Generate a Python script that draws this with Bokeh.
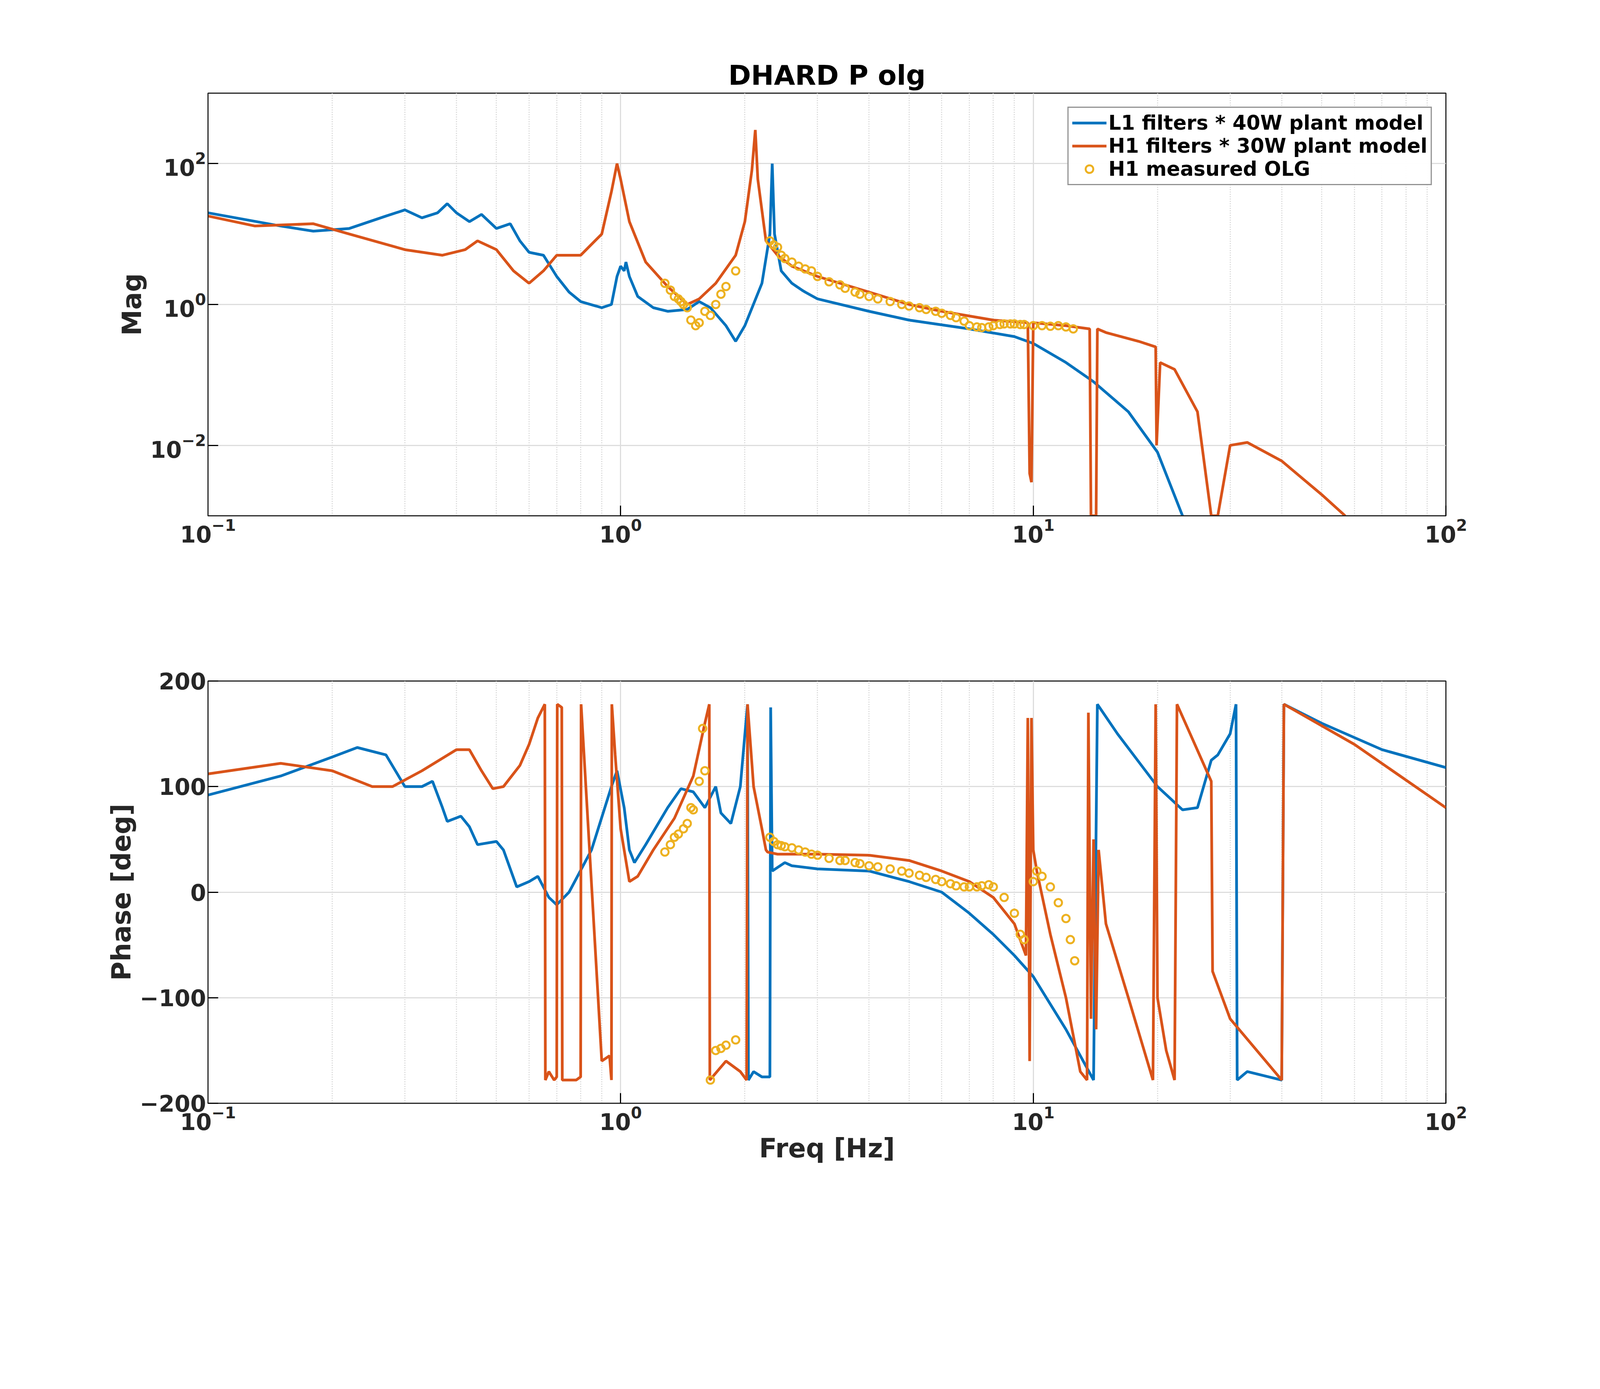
import numpy as np
from bokeh.plotting import figure
from bokeh.layouts import column
from bokeh.models import FixedTicker, Legend, LegendItem
from bokeh.embed import file_html
from bokeh.resources import INLINE

BLUE = "#0072BD"; ORANGE = "#D95319"; YEL = "#EDB120"

l1_mag_f = [0.1,0.15,0.18,0.22,0.27,0.3,0.33,0.36,0.38,0.4,0.43,0.46,0.5,0.54,0.57,0.6,0.65,0.7,0.75,0.8,0.9,0.95,0.98,1.0,1.02,1.03,1.05,1.1,1.2,1.3,1.45,1.55,1.65,1.8,1.9,2.0,2.2,2.3,2.33,2.36,2.45,2.6,2.75,2.8,3,4,5,7,9,10,12,14,17,20,23]
l1_mag_v = [20,13,11,12,18,22,17,20,27,20,15,19,12,14,8,5.5,5,2.5,1.5,1.1,0.9,1.0,2.5,3.5,3,4,2.5,1.3,0.9,0.8,0.85,1.1,0.9,0.5,0.3,0.5,2,10,100,10,3,2,1.6,1.5,1.2,0.8,0.6,0.45,0.35,0.28,0.15,0.08,0.03,0.008,0.001]

h1_mag_f = [0.1,0.13,0.18,0.22,0.3,0.37,0.42,0.45,0.5,0.55,0.6,0.65,0.7,0.8,0.9,0.95,0.98,1.0,1.05,1.15,1.3,1.45,1.55,1.7,1.9,2.0,2.08,2.12,2.15,2.25,2.4,2.6,3,4,5,6,8,9.7,9.8,9.9,10.0,12,13.7,13.8,14.2,14.3,15,18,19.8,19.9,20.3,22,25,27,28,30,33,40,50,57]
h1_mag_v = [18,13,14,10,6,5,6,8,6,3,2,3,5,5,10,40,100,60,15,4,1.8,1.0,1.2,2,5,15,80,300,60,8,5,3.5,2.5,1.5,1.0,0.8,0.6,0.55,0.004,0.003,0.55,0.5,0.45,0.001,0.001,0.45,0.4,0.3,0.25,0.01,0.15,0.12,0.03,0.001,0.001,0.01,0.011,0.006,0.002,0.001]

meas_f = [1.28,1.32,1.35,1.38,1.4,1.42,1.45,1.48,1.52,1.55,1.6,1.65,1.7,1.75,1.8,1.9,2.3,2.35,2.4,2.45,2.5,2.6,2.7,2.8,2.9,3.0,3.2,3.4,3.5,3.7,3.8,4.0,4.2,4.5,4.8,5.0,5.3,5.5,5.8,6.0,6.3,6.5,6.8,7.0,7.3,7.5,7.8,8.0,8.3,8.5,8.8,9.0,9.3,9.5,10.0,10.5,11.0,11.5,12.0,12.5]
meas_mag = [2,1.6,1.3,1.2,1.1,1.0,0.9,0.6,0.5,0.55,0.8,0.7,1.0,1.4,1.8,3,8,7,6.5,5,4.5,4,3.5,3.2,3.0,2.5,2.1,1.9,1.7,1.5,1.4,1.3,1.2,1.1,1.0,0.95,0.9,0.85,0.8,0.75,0.7,0.65,0.58,0.5,0.48,0.47,0.48,0.5,0.52,0.53,0.53,0.53,0.52,0.52,0.5,0.5,0.49,0.5,0.48,0.45]
meas_ph = [38,45,52,55,60,65,80,78,105,115,155,-178,-150,-148,-145,-140,52,48,45,44,43,42,40,38,36,35,32,30,30,28,27,25,24,22,20,18,16,14,12,10,8,6,5,5,5,6,7,5,-5,-20,-40,-45,10,20,15,5,-10,-25,-45,-65]
meas_ph_f = [1.28,1.32,1.35,1.38,1.42,1.45,1.48,1.5,1.55,1.6,1.58,1.65,1.7,1.75,1.8,1.9,2.3,2.35,2.4,2.45,2.5,2.6,2.7,2.8,2.9,3.0,3.2,3.4,3.5,3.7,3.8,4.0,4.2,4.5,4.8,5.0,5.3,5.5,5.8,6.0,6.3,6.5,6.8,7.0,7.3,7.5,7.8,8.0,8.5,9.0,9.3,9.5,10.0,10.2,10.5,11.0,11.5,12.0,12.3,12.6]

l1_ph_f = [0.1,0.15,0.2,0.23,0.27,0.3,0.33,0.35,0.37,0.38,0.41,0.43,0.45,0.5,0.52,0.56,0.6,0.63,0.67,0.7,0.75,0.85,0.95,0.98,1.02,1.05,1.08,1.15,1.3,1.4,1.5,1.6,1.7,1.75,1.85,1.95,2.03,2.04,2.1,2.2,2.3,2.31,2.33,2.5,2.6,3,4,5,6,7,8,9,10,12,14,14.3,16,20,23,25,27,28,30,31,31.2,33,40,40.5,50,70,100]
l1_ph_v = [92,110,128,137,130,100,100,105,80,67,72,62,45,48,40,5,10,15,-5,-12,0,40,100,115,80,40,28,45,80,98,95,80,100,75,65,100,178,-178,-170,-175,-175,175,20,28,25,22,20,10,0,-20,-40,-60,-80,-130,-178,178,150,100,78,80,125,130,150,178,-178,-170,-178,178,160,135,118]

h1_ph_f = [0.1,0.15,0.2,0.25,0.28,0.33,0.4,0.43,0.46,0.49,0.52,0.57,0.6,0.63,0.655,0.657,0.67,0.69,0.7,0.702,0.72,0.722,0.78,0.8,0.802,0.9,0.94,0.95,0.952,0.97,1.0,1.05,1.1,1.2,1.35,1.5,1.6,1.64,1.645,1.8,1.95,2.02,2.03,2.1,2.2,2.25,2.27,2.4,3,4,5,6,7,8,9,9.6,9.7,9.8,9.9,10.0,10.2,11,12,13,13.5,13.6,13.8,14.0,14.2,14.4,15,17,19.5,19.8,20,21,22,22.3,24,27,27.2,30,40,40.5,60,100]
h1_ph_v = [112,122,115,100,100,115,135,135,115,98,100,120,140,165,178,-178,-170,-178,-175,178,175,-178,-178,-175,178,-160,-155,-178,178,130,60,10,15,40,70,110,160,178,-178,-160,-170,-178,178,100,60,40,38,36,36,35,30,20,10,-5,-30,-60,165,-160,165,40,20,-40,-100,-170,-178,170,-120,50,-130,40,-30,-100,-178,178,-100,-150,-178,178,150,105,-75,-120,-178,178,140,80]

S = 0.88
def px(v):
    return int(round(v * S))

FONT = "DejaVu Sans"
XMINOR = [m * 10.0 ** e for e in (-1, 0, 1) for m in range(2, 10)]

def style(p):
    p.xaxis.ticker = FixedTicker(ticks=[0.1, 1, 10, 100], minor_ticks=XMINOR)
    for ax in (p.xaxis[0], p.yaxis[0]):
        ax.major_label_text_font = FONT
        ax.major_label_text_font_size = f"{px(66)}px"
        ax.major_label_text_font_style = "bold"
        ax.major_label_text_color = "#262626"
        ax.axis_label_text_font = FONT
        ax.axis_label_text_font_size = f"{px(76)}px"
        ax.axis_label_text_font_style = "bold"
        ax.axis_label_text_color = "#262626"
        ax.axis_line_width = 3
        ax.axis_line_color = "#262626"
        ax.major_tick_in = px(30); ax.major_tick_out = 0
        ax.minor_tick_in = 0; ax.minor_tick_out = 0
        ax.major_tick_line_width = 3
    p.xgrid.grid_line_color = "#dddddd"; p.ygrid.grid_line_color = "#dddddd"
    p.xgrid.grid_line_width = 3; p.ygrid.grid_line_width = 3
    p.xgrid.minor_grid_line_color = "#d0d0d0"; p.xgrid.minor_grid_line_dash = "dotted"
    p.xgrid.minor_grid_line_width = 3
    p.outline_line_color = "#262626"; p.outline_line_width = 3

W = px(4566)
p1 = figure(width=W, height=px(1750), x_axis_type="log", y_axis_type="log",
            x_range=(0.1, 100), y_range=(1e-3, 1e3), output_backend="svg",
            toolbar_location=None, min_border_left=px(605), min_border_right=px(360),
            min_border_top=px(270), min_border_bottom=px(250))
p1.title.text = "DHARD P olg"
p1.title.align = "center"; p1.title.text_font = FONT; p1.title.text_font_size = f"{px(80)}px"
p1.title.text_color = "#000000"
style(p1)
p1.yaxis.ticker = FixedTicker(ticks=[1e-2, 1, 1e2], minor_ticks=[])
p1.yaxis.axis_label = "Mag"
r1 = p1.line(l1_mag_f, l1_mag_v, color=BLUE, line_width=7)
r2 = p1.line(h1_mag_f, h1_mag_v, color=ORANGE, line_width=7)
r3 = p1.scatter(meas_f, meas_mag, marker="circle", size=px(22), fill_color=None,
                line_color=YEL, line_width=5)
leg = Legend(items=[LegendItem(label="L1 filters * 40W plant model", renderers=[r1]),
                    LegendItem(label="H1 filters * 30W plant model", renderers=[r2]),
                    LegendItem(label="H1 measured OLG", renderers=[r3])],
             location="top_right", label_text_font=FONT, label_text_font_size=f"{px(58)}px",
             label_text_font_style="bold", label_text_color="#000000",
             border_line_color="#262626", border_line_width=3,
             glyph_width=px(100), glyph_height=px(56), label_height=px(56), spacing=0,
             padding=px(10), margin=px(40))
p1.add_layout(leg)

p2 = figure(width=W, height=px(1790), x_axis_type="log", x_range=(0.1, 100), y_range=(-200, 200),
            output_backend="svg", toolbar_location=None, min_border_left=px(605),
            min_border_right=px(360), min_border_top=px(231), min_border_bottom=px(331))
style(p2)
p2.yaxis.ticker = FixedTicker(ticks=[-200, -100, 0, 100, 200])
p2.yaxis.axis_label = "Phase [deg]"
p2.xaxis.axis_label = "Freq [Hz]"
p2.line(l1_ph_f, l1_ph_v, color=BLUE, line_width=7)
p2.line(h1_ph_f, h1_ph_v, color=ORANGE, line_width=7)
p2.scatter(meas_ph_f, meas_ph, marker="circle", size=px(22), fill_color=None,
           line_color=YEL, line_width=5)

lay = column(p1, p2, spacing=0)
open("out.html", "w").write(file_html(lay, INLINE))
